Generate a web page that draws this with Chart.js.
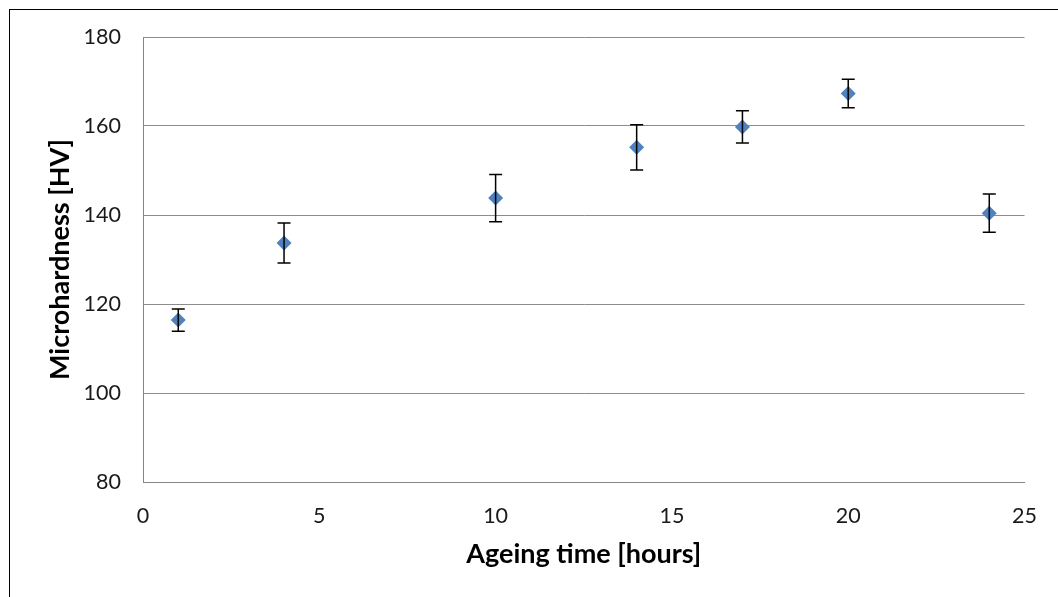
<!DOCTYPE html>
<html>
<head>
<meta charset="utf-8">
<script src="https://cdn.jsdelivr.net/npm/chart.js@4"></script>
<style>
  body { margin: 0; background: #fff; }
  #wrap { position: relative; width: 1058px; height: 597px; }
  #frame { position: absolute; left: 9px; top: 9px; right: 0; bottom: 0;
           border-left: 1px solid #000; border-top: 1px solid #000; pointer-events: none; }
</style>
</head>
<body>
<div id="wrap">
  <canvas id="hardnessChart" width="1058" height="597"></canvas>
  <div id="frame"></div>
</div>
<script>
// ageing time in hours, mean hardness and +/- error
const ageingHours = [1, 4, 10, 14, 17, 20, 24];
const hardness = [116.4, 133.7, 143.8, 155.2, 159.8, 167.3, 140.4];
const hardnessErr = [2.5, 4.5, 5.3, 5.1, 3.6, 3.2, 4.3];
const xTicks = [0, 5, 10, 15, 20, 25];
const yTicks = [80, 100, 120, 140, 160, 180];

// draws vertical error bars with caps from the data arrays
const errorBars = {
    id: 'errorBars',
    afterDatasetsDraw(chart) {
        const { ctx, scales: { x, y } } = chart;
        ctx.save();
        ctx.strokeStyle = '#000';
        ctx.lineWidth = 1.5;
        ageingHours.forEach((h, i) => {
            const px = x.getPixelForValue(h);
            const top = y.getPixelForValue(hardness[i] + hardnessErr[i]);
            const bot = y.getPixelForValue(hardness[i] - hardnessErr[i]);
            ctx.beginPath();
            ctx.moveTo(px, top); ctx.lineTo(px, bot);
            ctx.moveTo(px - 6.5, top); ctx.lineTo(px + 6.5, top);
            ctx.moveTo(px - 6.5, bot); ctx.lineTo(px + 6.5, bot);
            ctx.stroke();
        });
        ctx.restore();
    }
};

const ctx = document.getElementById('hardnessChart').getContext('2d');
new Chart(ctx, {
    type: 'scatter',
    data: {
        datasets: [{
            label: 'Microhardness',
            data: ageingHours.map((h, i) => ({ x: h, y: hardness[i] })),
            pointStyle: 'rectRot',
            pointRadius: 7.5,
            backgroundColor: '#4f81bd',
            borderColor: '#4f81bd',
            borderWidth: 0
        }]
    },
    options: {
        responsive: false,
        animation: false,
        layout: { padding: { top: 37, right: 33, left: 0, bottom: 0 } },
        plugins: {
            legend: { display: false },
            tooltip: { enabled: false }
        },
        scales: {
            x: {
                type: 'linear',
                min: 0,
                max: 25,
                afterBuildTicks(scale) { scale.ticks = xTicks.map(v => ({ value: v })); },
                afterFit(scale) { scale.height = 115; },
                grid: { display: false, drawTicks: false },
                border: { display: true, color: '#868686', width: 1 },
                ticks: { padding: 21, color: '#1a1a1a', font: { family: 'Lato', size: 21.5 } },
                title: {
                    display: true,
                    text: 'Ageing time [hours]',
                    color: '#000',
                    font: { family: 'Lato', size: 27, weight: 'bold' },
                    padding: { top: 27, bottom: 27 }
                }
            },
            y: {
                min: 80,
                max: 180,
                afterBuildTicks(scale) { scale.ticks = yTicks.map(v => ({ value: v })); },
                afterFit(scale) { scale.width = 143; },
                grid: { color: '#8c8c8c', lineWidth: 1, drawTicks: false },
                border: { display: true, color: '#868686', width: 1 },
                ticks: { padding: 22, color: '#1a1a1a', font: { family: 'Lato', size: 21.5 } },
                title: {
                    display: true,
                    text: 'Microhardness [HV]',
                    color: '#000',
                    font: { family: 'Lato', size: 27, weight: 'bold' },
                    padding: { top: 44, bottom: 44 }
                }
            }
        }
    },
    plugins: [errorBars]
});
</script>
</body>
</html>
